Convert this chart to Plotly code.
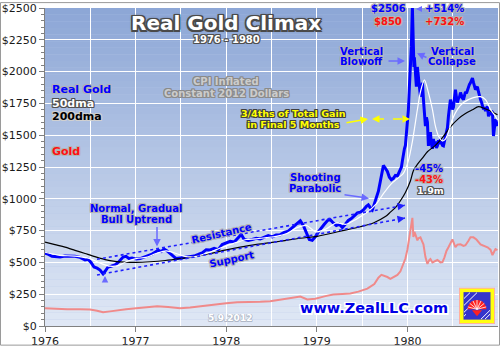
import math
import plotly.graph_objects as go

# ---------------- data ----------------
real_years = [
    1976.000, 1976.033, 1976.077, 1976.122, 1976.166, 1976.221, 1976.276, 1976.331, 1976.387, 1976.442,
    1976.475, 1976.508, 1976.541, 1976.575, 1976.608, 1976.641, 1976.663, 1976.696, 1976.729, 1976.773,
    1976.807, 1976.840, 1976.862, 1976.895, 1976.928, 1976.961, 1977.006, 1977.050, 1977.094, 1977.138,
    1977.182, 1977.215, 1977.249, 1977.282, 1977.315, 1977.348, 1977.381, 1977.414, 1977.448, 1977.492,
    1977.547, 1977.602, 1977.646, 1977.691, 1977.735, 1977.779, 1977.823, 1977.867, 1977.912, 1977.956,
    1978.000, 1978.044, 1978.088, 1978.133, 1978.166, 1978.199, 1978.243, 1978.287, 1978.331, 1978.376,
    1978.420, 1978.464, 1978.508, 1978.552, 1978.597, 1978.641, 1978.685, 1978.729, 1978.773, 1978.818,
    1978.851, 1978.884, 1978.917, 1978.950, 1978.983, 1979.017, 1979.050, 1979.083, 1979.116, 1979.149,
    1979.182, 1979.215, 1979.249, 1979.282, 1979.315, 1979.348, 1979.381, 1979.414, 1979.448, 1979.481,
    1979.514, 1979.547, 1979.569, 1979.591, 1979.613, 1979.635, 1979.657, 1979.680, 1979.702, 1979.724,
    1979.735, 1979.757, 1979.779, 1979.801, 1979.823, 1979.845, 1979.867, 1979.890, 1979.912, 1979.934,
    1979.945, 1979.956, 1979.967, 1979.978, 1979.989, 1980.000, 1980.011, 1980.022, 1980.033, 1980.044,
    1980.055, 1980.066, 1980.072, 1980.077, 1980.088, 1980.099, 1980.110, 1980.122, 1980.133, 1980.144,
    1980.155, 1980.166, 1980.177, 1980.188, 1980.199, 1980.210, 1980.221, 1980.232, 1980.243, 1980.254,
    1980.265, 1980.276, 1980.287, 1980.298, 1980.309, 1980.320, 1980.331, 1980.343, 1980.354, 1980.365,
    1980.376, 1980.387, 1980.398, 1980.409, 1980.420, 1980.431, 1980.442, 1980.453, 1980.464, 1980.475,
    1980.486, 1980.497, 1980.508, 1980.519, 1980.530, 1980.541, 1980.552, 1980.564, 1980.575, 1980.586,
    1980.597, 1980.608, 1980.619, 1980.630, 1980.641, 1980.652, 1980.663, 1980.674, 1980.685, 1980.696,
    1980.707, 1980.718, 1980.729, 1980.740, 1980.751, 1980.762, 1980.773, 1980.785, 1980.796, 1980.807,
    1980.818, 1980.829, 1980.840, 1980.851, 1980.862, 1980.873, 1980.884, 1980.895, 1980.906, 1980.917,
    1980.928, 1980.939, 1980.950, 1980.961, 1980.972, 1980.983, 1980.994,
]
real_gold = [
    573, 565, 548, 545, 542, 550, 552, 548, 540, 519,
    525, 500, 464, 455, 440, 410, 430, 464, 470, 480,
    500, 530, 542, 548, 530, 535, 526, 530, 540, 555,
    565, 580, 596, 585, 605, 590, 570, 545, 530, 535,
    542, 548, 550, 562, 575, 600, 598, 610, 600, 640,
    655, 665, 660, 690, 720, 680, 672, 680, 690, 685,
    700, 710, 700, 715, 718, 735, 745, 772, 800, 828,
    790, 730, 680, 673, 700, 740, 775, 800, 828, 836,
    810, 790, 800, 774, 800, 830, 845, 870, 890, 895,
    913, 940, 952, 930, 913, 960, 1010, 1060, 1140, 1215,
    1262, 1240, 1215, 1170, 1150, 1161, 1184, 1180, 1215, 1250,
    1300, 1370, 1393, 1420, 1500, 1571, 1700, 1881, 2000, 2200,
    2506, 2250, 2036, 2113, 1950, 1881, 2036, 1960, 1912, 1803,
    1850, 1912, 1780, 1700, 1571, 1640, 1602, 1416, 1480, 1525,
    1430, 1393, 1470, 1420, 1450, 1400, 1416, 1460, 1430, 1470,
    1440, 1420, 1416, 1450, 1480, 1525, 1560, 1649, 1700, 1780,
    1740, 1703, 1720, 1800, 1858, 1800, 1757, 1790, 1800, 1835,
    1810, 1790, 1780, 1820, 1840, 1830, 1858, 1880, 1900, 1912,
    1930, 1950, 1915, 1880, 1858, 1870, 1881, 1840, 1800, 1780,
    1760, 1730, 1703, 1720, 1690, 1710, 1726, 1649, 1670, 1660,
    1690, 1680, 1494, 1560, 1625, 1600, 1571,
]

ma50_years = [
    1976.000, 1976.166, 1976.331, 1976.497, 1976.608, 1976.718, 1976.807, 1976.895, 1977.006, 1977.116,
    1977.227, 1977.337, 1977.448, 1977.558, 1977.669, 1977.779, 1977.890, 1978.000, 1978.110, 1978.221,
    1978.331, 1978.442, 1978.552, 1978.663, 1978.773, 1978.884, 1978.994, 1979.105, 1979.215, 1979.326,
    1979.436, 1979.547, 1979.657, 1979.735, 1979.812, 1979.890, 1979.956, 1980.011, 1980.055, 1980.110,
    1980.144, 1980.188, 1980.232, 1980.276, 1980.309, 1980.343, 1980.387, 1980.420, 1980.453, 1980.497,
    1980.552, 1980.619, 1980.729, 1980.807, 1980.862, 1980.917, 1980.972, 1980.994,
]
ma50 = [
    580, 555, 550, 530, 495, 470, 475, 505, 530, 540,
    570, 590, 570, 545, 548, 570, 600, 630, 655, 680,
    685, 695, 705, 725, 770, 790, 740, 765, 810, 800,
    840, 890, 960, 1040, 1110, 1160, 1200, 1300, 1450, 1700,
    1840, 1935, 1835, 1703, 1571, 1494, 1455, 1470, 1525, 1625,
    1703, 1757, 1795, 1803, 1780, 1703, 1649, 1620,
]

ma200_years = [
    1976.000, 1976.110, 1976.221, 1976.331, 1976.442, 1976.552, 1976.663, 1976.773, 1976.884, 1977.006,
    1977.160, 1977.326, 1977.492, 1977.657, 1977.823, 1978.000, 1978.155, 1978.320, 1978.486, 1978.597,
    1978.818, 1979.006, 1979.260, 1979.481, 1979.624, 1979.757, 1979.812, 1979.867, 1979.923, 1979.978,
    1980.033, 1980.066, 1980.110, 1980.166, 1980.221, 1980.309, 1980.387, 1980.475, 1980.564, 1980.641,
    1980.718, 1980.785, 1980.851, 1980.917, 1980.994,
]
ma200 = [
    660, 640, 620, 595, 570, 545, 522, 508, 502, 500,
    505, 515, 530, 548, 570, 598, 620, 640, 655, 666,
    690, 705, 745, 780, 810, 860, 895, 930, 985, 1050,
    1140, 1220, 1270, 1320, 1370, 1420, 1480, 1565, 1630, 1670,
    1700, 1725, 1710, 1690, 1660,
]

gold_years = [
    1976.000, 1976.110, 1976.243, 1976.387, 1976.497, 1976.575, 1976.641, 1976.718, 1976.796, 1976.895,
    1977.006, 1977.116, 1977.238, 1977.359, 1977.492, 1977.602, 1977.713, 1977.856, 1978.000, 1978.122,
    1978.243, 1978.376, 1978.486, 1978.597, 1978.707, 1978.818, 1978.895, 1978.983, 1979.094, 1979.182,
    1979.282, 1979.370, 1979.459, 1979.558, 1979.635, 1979.680, 1979.713, 1979.746, 1979.779, 1979.812,
    1979.856, 1979.890, 1979.923, 1979.956, 1979.978, 1980.000, 1980.022, 1980.044, 1980.055, 1980.066,
    1980.077, 1980.088, 1980.110, 1980.122, 1980.144, 1980.166, 1980.177, 1980.199, 1980.221, 1980.243,
    1980.254, 1980.276, 1980.287, 1980.309, 1980.331, 1980.365, 1980.387, 1980.409, 1980.431, 1980.453,
    1980.475, 1980.497, 1980.519, 1980.530, 1980.552, 1980.586, 1980.619, 1980.641, 1980.674, 1980.696,
    1980.729, 1980.762, 1980.807, 1980.840, 1980.884, 1980.917, 1980.939, 1980.961, 1980.972, 1980.994,
]
gold = [
    139, 135, 132, 132, 130, 120, 108, 115, 124, 132,
    139, 145, 155, 150, 139, 145, 155, 165, 178, 186,
    186, 190, 194, 205, 218, 232, 209, 215, 235, 248,
    252, 255, 270, 294, 330, 380, 402, 395, 385, 371,
    390, 402, 430, 488, 530, 600, 700, 790, 850, 700,
    740, 720, 673, 690, 697, 660, 642, 542, 488, 520,
    526, 500, 503, 515, 519, 500, 503, 540, 590, 619,
    650, 681, 640, 619, 640, 642, 630, 635, 670, 697,
    697, 680, 642, 630, 619, 600, 557, 590, 604, 596,
]

x_ticks = [1976, 1977, 1978, 1979, 1980]
x_tick_labels = ["1976", "1977", "1978", "1979", "1980"]

# ---------------- styling helpers (pixel -> paper) ----------------
L, R, T, B = 45, 2, 6, 20
W, H = 500, 350
PW, PH = W - L - R, H - T - B
FONT = "DejaVu Sans"
BLUE = "#0000ff"
RED = "#ff1010"
ARROW_BLUE = "#6b6bff"


def px(x):
    return (x - L) / PW


def py(y):
    return (H - B - y) / PH


def halo(c, r=1.0, blur=0):
    pts = [(-r, -r), (r, -r), (-r, r), (r, r), (0, r), (0, -r), (r, 0), (-r, 0)]
    s = ", ".join(f"{dx}px {dy}px {blur}px {c}" for dx, dy in pts)
    return s


def label(x, y, text, color, size, shadow, **kw):
    d = dict(x=px(x), y=py(y), xref="paper", yref="paper", text=text, showarrow=False,
             font=dict(family=FONT, size=size, color=color, weight="bold", shadow=shadow),
             xanchor="center", yanchor="middle")
    d.update(kw)
    return d


def arrow(x0, y0, x1, y1, color, width=1.5, size=1.0, head=2):
    return dict(x=px(x1), y=py(y1), xref="paper", yref="paper", text="", showarrow=True,
                ax=x0 - x1, ay=y0 - y1, arrowcolor=color, arrowwidth=width,
                arrowsize=size, arrowhead=head, standoff=0, startstandoff=0)


LIGHT = halo("#b4b4b4", 1)
DARK = halo("#505050", 1)

annotations = [
    label(226, 21, "Real Gold Climax", "white", 20, halo("#4a4a4a", 1.5) + ", 0 0 3px #333"),
    label(226, 38, "1976 - 1980", "white", 10, DARK),
    label(226, 81, "CPI Inflated", "#cccccc", 10, halo("#8a8a8a", 1)),
    label(226, 93, "Constant 2012 Dollars", "#cccccc", 10, halo("#8a8a8a", 1)),
    label(50, 89, "Real Gold", BLUE, 11, LIGHT, xanchor="left"),
    label(50, 103, "50dma", "white", 11, DARK, xanchor="left"),
    label(50, 117, "200dma", "black", 11, halo("#d0d0d0", 1), xanchor="left"),
    label(50, 152, "Gold", RED, 11, LIGHT, xanchor="left"),
    label(293, 113, "3/4ths of Total Gain", "#ffff00", 9.5, halo("#404040", 1)),
    label(293, 125, "in Final 5 Months", "#ffff00", 9.5, halo("#404040", 1)),
    label(388, 7, "$2506", BLUE, 10, LIGHT),
    label(388, 20, "$850", RED, 10, LIGHT),
    label(444, 7, "+514%", BLUE, 10, LIGHT),
    label(444, 20, "+732%", RED, 10, LIGHT),
    label(361, 50, "Vertical", BLUE, 10, LIGHT),
    label(361, 61, "Blowoff", BLUE, 10, LIGHT),
    label(452, 50, "Vertical", BLUE, 10, LIGHT),
    label(452, 61, "Collapse", BLUE, 10, LIGHT),
    label(315, 179, "Shooting", BLUE, 10, LIGHT),
    label(315, 190, "Parabolic", BLUE, 10, LIGHT),
    label(429, 170, "-45%", BLUE, 10, LIGHT),
    label(429, 181, "-43%", RED, 10, LIGHT),
    label(430, 192, "1.9m", "white", 9.5, DARK),
    label(136, 210, "Normal, Gradual", BLUE, 10, LIGHT),
    label(136, 221, "Bull Uptrend", BLUE, 10, LIGHT),
    label(221, 236, "Resistance", BLUE, 10, LIGHT, textangle=-13),
    label(231, 262, "Support", BLUE, 10, LIGHT, textangle=-12),
    label(374, 312, "www.ZealLLC.com", "#0000e6", 14.5, halo("white", 1.5)),
    label(230, 322, "5.9.2012", "white", 9, halo("#b0b8c8", 0.5)),
    # arrows
    arrow(387, 60, 405, 60, ARROW_BLUE),
    arrow(428, 57, 417, 52, ARROW_BLUE),
    arrow(343, 196, 369, 200, ARROW_BLUE),
    arrow(157, 228, 157, 249, ARROW_BLUE),
    arrow(105, 285, 105, 279, ARROW_BLUE, width=1, size=1.3),
    arrow(423, 7, 416, 7, ARROW_BLUE, width=1, size=1.2),
    arrow(398, 208.3, 405, 207, "#2020ff", width=1.5),
    arrow(398, 221.3, 405, 220, "#2020ff", width=1.5),
    arrow(345, 123, 368, 119, "#ffff00", width=1.5),
    arrow(378, 119, 372, 119, "#ffff00", width=1.5),
    arrow(404, 119, 410, 119, "#ffff00", width=1.5),
]

shapes = []
# vertical gradient background of the plot area
N = 48
top_c, bot_c = (140, 166, 214), (224, 232, 245)
for i in range(N):
    f = (i + 0.5) / N
    c = tuple(round(bot_c[k] + (top_c[k] - bot_c[k]) * f) for k in range(3))
    shapes.append(dict(type="rect", xref="paper", yref="paper", x0=0, x1=1, y0=i / N, y1=(i + 1) / N,
                       fillcolor=f"rgb{c}", line=dict(width=0), layer="below"))

# dotted resistance / support channel
shapes.append(dict(type="line", xref="paper", yref="paper", x0=px(97), y0=py(262), x1=px(405), y1=py(207),
                   line=dict(color="#2020ff", width=1.6, dash="dot")))
shapes.append(dict(type="line", xref="paper", yref="paper", x0=px(97), y0=py(278), x1=px(405), y1=py(220),
                   line=dict(color="#2020ff", width=1.6, dash="dot")))
# yellow dashed double arrow
shapes.append(dict(type="line", xref="paper", yref="paper", x0=px(375), y0=py(119), x1=px(407), y1=py(119),
                   line=dict(color="#ffff00", width=1.5, dash="dash")))


# logo
def rect(x0, y0, x1, y1, fill, line_c=None, lw=0):
    return dict(type="rect", xref="paper", yref="paper", x0=px(x0), x1=px(x1), y0=py(y1), y1=py(y0),
                fillcolor=fill, line=dict(color=line_c or fill, width=lw), layer="above")


def poly(points, fill, line_c=None, lw=0):
    path = "M " + " L ".join(f"{px(a):.5f},{py(b):.5f}" for a, b in points) + " Z"
    return dict(type="path", xref="paper", yref="paper", path=path, fillcolor=fill,
                line=dict(color=line_c or fill, width=lw), layer="above")


shapes.append(rect(459, 291, 495, 328, "#ffb0a0"))
shapes.append(rect(460, 292, 494, 327, "#ffff10"))
shapes.append(rect(463.5, 295.5, 490.5, 323.5, "#3434cc"))
for (a, b, c2, d2) in [(464, 302, 470, 296), (464, 309, 477, 296), (481, 323, 490, 314), (485, 323, 490, 318),
                       (464, 316, 468, 312), (464, 320, 466, 318)]:
    shapes.append(dict(type="line", xref="paper", yref="paper", x0=px(a), y0=py(b), x1=px(c2), y1=py(d2),
                       line=dict(color="white", width=1), layer="above"))
cx, cy, rr = 477, 313, 9.5
fan = [(cx + rr * math.cos(math.radians(t)), cy - rr * math.sin(math.radians(t))) for t in range(0, 181, 15)]
shapes.append(poly([(cx, cy)] + fan, "#ff2020"))
for t in range(15, 180, 25):
    shapes.append(dict(type="line", xref="paper", yref="paper", x0=px(cx), y0=py(cy),
                       x1=px(cx + rr * math.cos(math.radians(t))), y1=py(cy - rr * math.sin(math.radians(t))),
                       line=dict(color="white", width=0.8), layer="above"))
shapes.append(poly([(472, 314), (482, 314), (477, 320)], "#ff2020"))

# outer image frame
shapes.append(dict(type="rect", xref="paper", yref="paper", x0=px(0.5), x1=px(W - 0.5), y0=py(H - 0.5),
                   y1=py(0.5), line=dict(color="#9a9a9a", width=1), fillcolor="rgba(0,0,0,0)", layer="above"))

fig = go.Figure()
fig.add_trace(go.Scatter(x=gold_years, y=gold, mode="lines", line=dict(color="#f08a8a", width=2),
                         name="Gold"))
fig.add_trace(go.Scatter(x=real_years, y=real_gold, mode="lines", line=dict(color="#0000ff", width=3),
                         name="Real Gold"))
fig.add_trace(go.Scatter(x=ma200_years, y=ma200, mode="lines",
                         line=dict(color="black", width=1.2, shape="spline", smoothing=0.8), name="200dma"))
fig.add_trace(go.Scatter(x=ma50_years, y=ma50, mode="lines",
                         line=dict(color="white", width=1.2, shape="spline", smoothing=0.8), name="50dma"))

fig.update_layout(
    width=W, height=H,
    margin=dict(l=L, r=R, t=T, b=B, pad=0),
    paper_bgcolor="white",
    plot_bgcolor="rgb(180,198,230)",
    showlegend=False,
    font=dict(family=FONT, size=11, color="#1a1a1a"),
    xaxis=dict(range=[1976, 1981], tickvals=x_ticks, ticktext=x_tick_labels,
               showgrid=True, gridcolor="white", gridwidth=1,
               minor=dict(tickvals=[1976.5, 1977.5, 1978.5, 1979.5, 1980.5], showgrid=True,
                          gridcolor="white", gridwidth=1, ticks=""),
               ticks="outside", ticklen=5, tickcolor="#808080", showline=True, linecolor="#808080",
               linewidth=1, zeroline=False, tickfont=dict(size=11, color="#1a1a1a"),
               ticklabeloverflow="allow"),
    yaxis=dict(range=[0, 2500], dtick=250, tick0=0, tickprefix="$", tickformat="d",
               showgrid=True, gridcolor="white", gridwidth=1,
               ticks="outside", ticklen=5, tickcolor="#808080",
               minor=dict(dtick=50, ticks="outside", ticklen=3, tickcolor="#808080", showgrid=False),
               showline=True, linecolor="#808080", linewidth=1, zeroline=False,
               tickfont=dict(size=11, color="#1a1a1a"), ticklabeloverflow="allow"),
    annotations=annotations,
    shapes=shapes,
)

fig.write_html("out.html")
